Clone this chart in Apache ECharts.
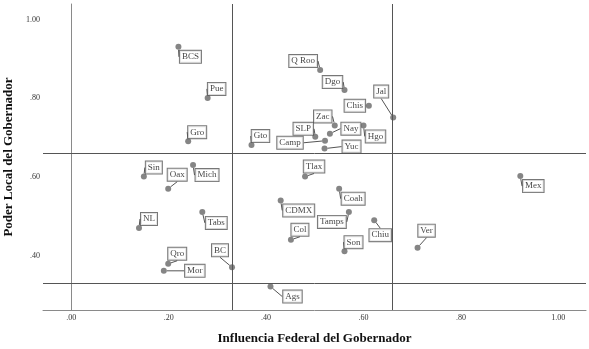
<!DOCTYPE html>
<html>
<head>
<meta charset="utf-8">
<script src="https://cdn.jsdelivr.net/npm/echarts@6/dist/echarts.min.js"></script>
<style>html,body{margin:0;padding:0;background:#fff}#c{width:589px;height:349px}</style>
</head>
<body>
<div id="c"></div>
<script>
const states = ['BCS','Pue','Gro','Gto','Q Roo','Dgo','Chis','Jal','Zac','Hgo','Nay','SLP','Camp','Yuc','Tlax','Sin','Oax','Mich','NL','Tabs','Qro','Mor','BC','Ags','Coah','CDMX','Tamps','Chiu','Col','Son','Mex','Ver'];
const fedInfluence = [0.220,0.280,0.240,0.370,0.511,0.561,0.611,0.661,0.541,0.600,0.531,0.501,0.521,0.520,0.480,0.149,0.199,0.250,0.139,0.269,0.199,0.190,0.330,0.409,0.550,0.430,0.570,0.622,0.451,0.561,0.922,0.711];
const localPower = [0.931,0.801,0.691,0.681,0.872,0.821,0.781,0.751,0.731,0.731,0.710,0.702,0.692,0.672,0.601,0.601,0.570,0.630,0.470,0.511,0.379,0.361,0.370,0.321,0.570,0.540,0.511,0.490,0.440,0.411,0.602,0.420];
const xTicks = [0, 0.2, 0.4, 0.6, 0.8, 1.0];
const yTicks = [0.4, 0.6, 0.8, 1.0];
const refLines = [0.33, 0.66];

// label displacement (px) from each point
const labelShift = {
  'BCS':[12,10],'Pue':[9,-9],'Gro':[9,-9],'Gto':[9,-9],'Q Roo':[-17,-9],'Dgo':[-12,-8],
  'Chis':[-14,0],'Jal':[-12,-26],'Zac':[-12,-9],'Hgo':[12,11],'Nay':[21,-5],'SLP':[-12,-8],
  'Camp':[-35,2],'Yuc':[27,-2],'Tlax':[9,-10],'Sin':[10,-9],'Oax':[9,-14],'Mich':[14,10],
  'NL':[10,-9],'Tabs':[14,11],'Qro':[9,-10],'Mor':[31,0],'BC':[-12,-17],'Ags':[22,10],
  'Coah':[14,10],'CDMX':[18,10],'Tamps':[-17,10],'Chiu':[6,15],'Col':[9,-10],'Son':[9,-9],
  'Mex':[13,10],'Ver':[9,-17]
};

const fmt = v => { const s = Number(v).toFixed(2); return s.startsWith('0') ? s.slice(1) : s; };
const serif = '"Liberation Serif", "DejaVu Serif", serif';

const points = states.map((s, i) => ({ name: s, value: [fedInfluence[i], localPower[i]] }));

const chart = echarts.init(document.getElementById('c'), null, { renderer: 'canvas' });
chart.setOption({
  animation: false,
  backgroundColor: '#fff',
  grid: { left: 43, right: 3, top: 4, bottom: 39, containLabel: false, outerBoundsMode: 'none' },
  xAxis: {
    type: 'value', min: -0.0581, max: 1.0569,
    name: 'Influencia Federal del Gobernador', nameLocation: 'middle', nameGap: 22, nameMoveOverlap: false,
    nameTextStyle: { fontFamily: serif, fontWeight: 'bold', fontSize: 13, color: '#111' },
    axisLine: { show: true, lineStyle: { color: '#8a8a8a', width: 1 } },
    axisTick: { show: false },
    splitLine: { show: false },
    axisLabel: { customValues: xTicks, formatter: fmt, fontFamily: serif, fontSize: 8, color: '#333', margin: 4 }
  },
  yAxis: {
    type: 'value', min: 0.2613, max: 1.040,
    name: 'Poder Local del Gobernador', nameLocation: 'middle', nameGap: 28, nameMoveOverlap: false,
    nameTextStyle: { fontFamily: serif, fontWeight: 'bold', fontSize: 13, color: '#111' },
    axisLine: { show: true, lineStyle: { color: '#8a8a8a', width: 1 } },
    axisTick: { show: false },
    splitLine: { show: false },
    axisLabel: { customValues: yTicks, formatter: fmt, fontFamily: serif, fontSize: 8, color: '#333', margin: 3 }
  },
  series: [{
    type: 'scatter',
    data: points,
    symbolSize: 6,
    itemStyle: { color: '#666' },
    label: {
      show: true, position: 'inside',
      formatter: p => p.name,
      fontFamily: serif, fontSize: 9, color: '#111',
      backgroundColor: '#fff', borderColor: '#555', borderWidth: 1,
      padding: [1, 2, 0, 2], lineHeight: 11
    },
    labelLine: { show: true, lineStyle: { color: '#555', width: 1 } },
    labelLayout: p => { const o = labelShift[states[p.dataIndex]]; return { dx: o[0], dy: o[1] }; },
    markLine: {
      silent: true, symbol: 'none', label: { show: false },
      lineStyle: { color: '#555', width: 1, type: 'solid' },
      data: refLines.map(v => ({ xAxis: v })).concat(refLines.map(v => ({ yAxis: v })))
    }
  }]
});
</script>
</body>
</html>
